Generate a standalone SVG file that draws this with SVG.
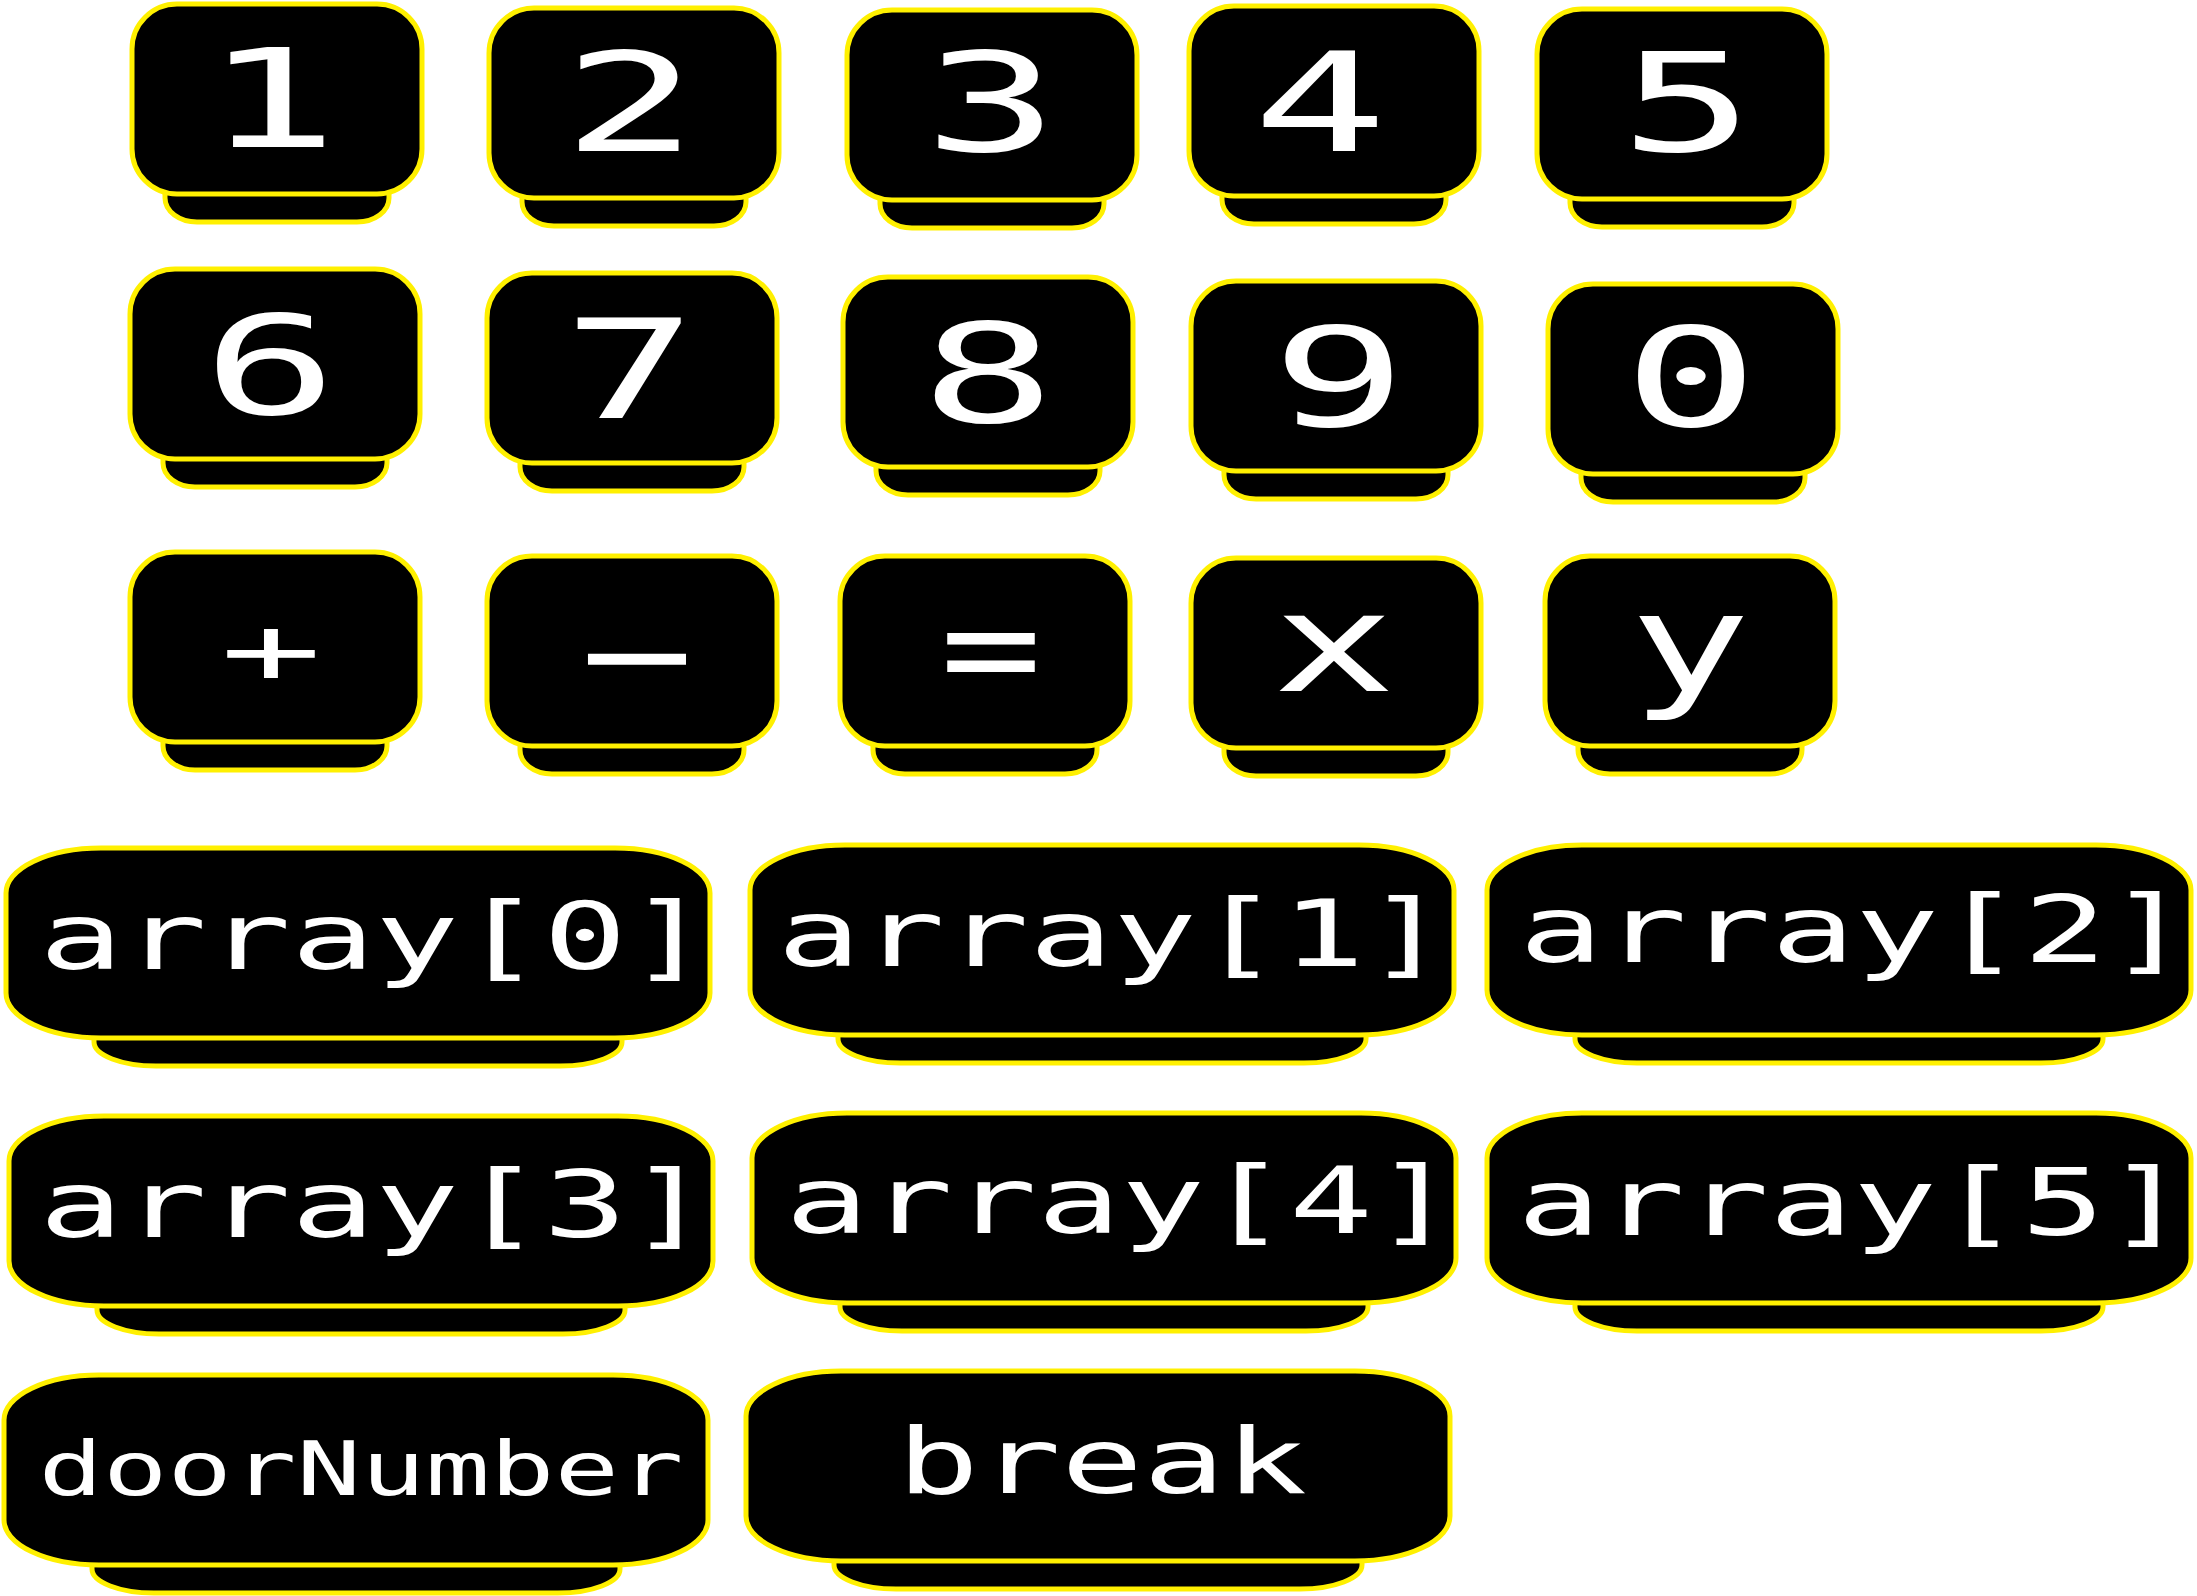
<svg xmlns="http://www.w3.org/2000/svg" width="2197" height="1596" viewBox="0 0 2197 1596">
<style>
.b{fill:#000;stroke:#fff000;stroke-width:5}
.t{font-family:"DejaVu Sans Mono","Liberation Mono",monospace;fill:#fff;text-anchor:middle}
.k{font-size:138px}
.a{font-size:93px}
</style>
<defs>
<g id="key">
<rect class="b" x="35" y="150" width="224" height="70" rx="32" ry="24"/>
<rect class="b" x="2" y="2" width="290" height="190" rx="45" ry="45"/>
</g>
<g id="wide">
<rect class="b" x="90" y="150" width="528" height="70" rx="62" ry="24"/>
<rect class="b" x="2" y="2" width="704" height="190" rx="95" ry="45"/>
</g>
</defs>
<rect width="2197" height="1596" fill="#fff"/>
<g id="key-1"><use href="#key" x="130" y="2"/><text class="t k" x="271" y="147" textLength="135" lengthAdjust="spacingAndGlyphs">1</text></g>
<g id="key-2"><use href="#key" x="487" y="6"/><text class="t k" x="630" y="151" textLength="135" lengthAdjust="spacingAndGlyphs">2</text></g>
<g id="key-3"><use href="#key" x="845" y="8"/><text class="t k" x="991" y="151" textLength="135" lengthAdjust="spacingAndGlyphs">3</text></g>
<g id="key-4"><use href="#key" x="1187" y="4"/><text class="t k" x="1320" y="151" textLength="135" lengthAdjust="spacingAndGlyphs">4</text></g>
<g id="key-5"><use href="#key" x="1535" y="7"/><text class="t k" x="1687" y="151" textLength="135" lengthAdjust="spacingAndGlyphs">5</text></g>
<g id="key-6"><use href="#key" x="128" y="267"/><text class="t k" x="270" y="414" textLength="135" lengthAdjust="spacingAndGlyphs">6</text></g>
<g id="key-7"><use href="#key" x="485" y="271"/><text class="t k" x="630" y="418" textLength="135" lengthAdjust="spacingAndGlyphs">7</text></g>
<g id="key-8"><use href="#key" x="841" y="275"/><text class="t k" x="988" y="422" textLength="135" lengthAdjust="spacingAndGlyphs">8</text></g>
<g id="key-9"><use href="#key" x="1189" y="279"/><text class="t k" x="1339" y="426" textLength="135" lengthAdjust="spacingAndGlyphs">9</text></g>
<g id="key-0"><use href="#key" x="1546" y="282"/><text class="t k" x="1691" y="426" textLength="135" lengthAdjust="spacingAndGlyphs">0</text></g>
<g id="key-plus"><use href="#key" x="128" y="550"/><text class="t" style="font-size:95px" x="271" y="683" textLength="102" lengthAdjust="spacingAndGlyphs">+</text></g>
<g id="key-minus"><use href="#key" x="485" y="554"/><text class="t k" x="637" y="697" textLength="232" lengthAdjust="spacingAndGlyphs">-</text></g>
<g id="key-equals"><use href="#key" x="838" y="554"/><text class="t k" x="991" y="696" textLength="102" lengthAdjust="spacingAndGlyphs">=</text></g>
<g id="key-x"><use href="#key" x="1189" y="556"/><text class="t k" x="1334" y="691" textLength="124" lengthAdjust="spacingAndGlyphs">x</text></g>
<g id="key-y"><use href="#key" x="1543" y="554"/><text class="t k" x="1690" y="691" textLength="122" lengthAdjust="spacingAndGlyphs">y</text></g>
<g id="array-0"><use href="#wide" x="4" y="846"/><text class="t a" x="375" y="969" textLength="672" lengthAdjust="spacingAndGlyphs">array[0]</text></g>
<g id="array-1"><use href="#wide" x="748" y="843"/><text class="t a" x="1113" y="966" textLength="672" lengthAdjust="spacingAndGlyphs">array[1]</text></g>
<g id="array-2"><use href="#wide" x="1485" y="843"/><text class="t a" x="1855" y="962" textLength="672" lengthAdjust="spacingAndGlyphs">array[2]</text></g>
<g id="array-3"><use href="#wide" x="7" y="1114"/><text class="t a" x="375" y="1237" textLength="672" lengthAdjust="spacingAndGlyphs">array[3]</text></g>
<g id="array-4"><use href="#wide" x="750" y="1111"/><text class="t a" x="1121" y="1233" textLength="672" lengthAdjust="spacingAndGlyphs">array[4]</text></g>
<g id="array-5"><use href="#wide" x="1485" y="1111"/><text class="t a" x="1853" y="1235" textLength="672" lengthAdjust="spacingAndGlyphs">array[5]</text></g>
<g id="doorNumber"><use href="#wide" x="2" y="1373"/><text class="t" style="font-size:75px" x="361" y="1495" textLength="645" lengthAdjust="spacingAndGlyphs">doorNumber</text></g>
<g id="break"><use href="#wide" x="744" y="1369"/><text class="t" style="font-size:91px" x="1102" y="1493" textLength="410" lengthAdjust="spacingAndGlyphs">break</text></g>
</svg>
